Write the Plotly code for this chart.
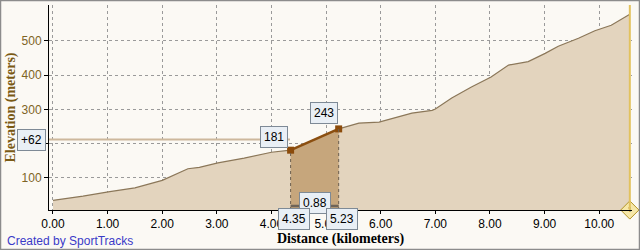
import plotly.graph_objects as go

# ---- data ----
distance_km = [0.00, 0.55, 1.04, 1.50, 2.00, 2.10, 2.47, 2.68, 3.02, 3.50, 4.00, 4.35,
               4.99, 5.23, 5.60, 5.97, 6.57, 6.94, 7.00, 7.30, 7.66, 8.02, 8.34, 8.70,
               9.01, 9.25, 9.62, 9.92, 10.22, 10.56]
elevation_m = [35, 47, 60, 71, 93, 100, 127, 131, 144, 158, 175, 181,
               226, 243, 260, 263, 289, 297, 301, 333, 365, 394, 429, 439,
               463, 484, 507, 529, 545, 577]

sel_start_km = 4.35
sel_end_km = 5.23
sel_start_elev = 181
sel_end_elev = 243
sel_distance_label = "0.88"
sel_gain_label = "+62"

x_ticks = [0, 1, 2, 3, 4, 5, 6, 7, 8, 9, 10]
x_tick_text = ["0.00", "1.00", "2.00", "3.00", "4.00", "5.00", "6.00", "7.00", "8.00", "9.00", "10.00"]
y_ticks = [100, 200, 300, 400, 500]
y_tick_text = ["100", "200", "300", "400", "500"]

# ---- layout geometry ----
W, H = 640, 250
ML, MR, MT, MB = 49, 8, 5, 40
PW, PH = W - ML - MR, H - MT - MB
XR = [-0.073, 10.60]
YR = [6.7, 604]


def px_x(p):
    return (p - ML) / PW


def px_y(p):
    return 1 - (p - MT) / PH


BG = "#FBF9F4"
FILL = "#E3D4BE"
LINE = "#8B7759"
SEL_FILL = "#C6A67C"
SEL_LINE = "#8B4F10"
BOX_BG = "#E9EFF5"
BOX_BORDER = "#7E8A96"

fig = go.Figure()

# main profile
fig.add_trace(go.Scatter(x=distance_km, y=elevation_m, mode="lines", fill="tozeroy",
                         fillcolor=FILL, line=dict(color=LINE, width=1.2),
                         hoverinfo="skip", showlegend=False))

# selected segment
sel_x = [d for d in distance_km if sel_start_km <= d <= sel_end_km]
sel_y = [e for d, e in zip(distance_km, elevation_m) if sel_start_km <= d <= sel_end_km]
fig.add_trace(go.Scatter(x=sel_x, y=sel_y, mode="lines", fill="tozeroy",
                         fillcolor=SEL_FILL, line=dict(color=SEL_LINE, width=2.5),
                         hoverinfo="skip", showlegend=False))
fig.add_trace(go.Scatter(x=[sel_start_km, sel_end_km], y=[sel_start_elev, sel_end_elev],
                         mode="markers", marker=dict(symbol="square", size=7, color="#8B4B0B"),
                         hoverinfo="skip", showlegend=False))

# end marker line
end_km = distance_km[-1]
fig.add_shape(type="line", x0=end_km, x1=end_km, y0=YR[0], y1=YR[1],
              line=dict(color="#E2C25E", width=2))
fig.add_trace(go.Scatter(x=[end_km], y=[YR[0]], mode="markers+text", text=["1"],
                         textfont=dict(size=8, color="#5A4A10"), textposition="middle center",
                         marker=dict(symbol="diamond", size=14, color="#F6E7A8",
                                     line=dict(color="#B39425", width=1)),
                         cliponaxis=False, hoverinfo="skip", showlegend=False))

mid_elev = (sel_start_elev + sel_end_elev) / 2
# horizontal gain line
fig.add_shape(type="line", xref="paper", x0=0, x1=px_x(290), y0=mid_elev, y1=mid_elev,
              line=dict(color="#CDB89C", width=2))
# dashed verticals
for xk, yk in [(sel_start_km, sel_start_elev), (sel_end_km, sel_end_elev)]:
    fig.add_shape(type="line", x0=xk, x1=xk, y0=YR[0], y1=yk,
                  line=dict(color="#6E6050", width=1, dash="dot"))
# distance bar
bar_elev = 18
fig.add_shape(type="line", x0=sel_start_km, x1=sel_end_km, y0=bar_elev, y1=bar_elev,
              line=dict(color="#6E6458", width=2.5))

fnt = dict(family="Liberation Sans, Arial, sans-serif", size=12, color="#000000")


def label(text, **kw):
    fig.add_annotation(text=text, bgcolor=BOX_BG, bordercolor=BOX_BORDER, borderwidth=1, borderpad=3,
                       showarrow=False, font=fnt, xanchor="center", yanchor="middle", **kw)


label(str(sel_start_elev), x=sel_start_km, y=sel_start_elev, xshift=-17, yshift=13)
label(str(sel_end_elev), x=sel_end_km, y=sel_end_elev, xshift=-15, yshift=16)
label(sel_distance_label, x=(sel_start_km + sel_end_km) / 2, y=bar_elev, yshift=3)
label(f"{sel_start_km:.2f}", xref="paper", yref="paper", x=px_x(293.5), y=px_y(219))
label(f"{sel_end_km:.2f}", xref="paper", yref="paper", x=px_x(341.5), y=px_y(219))
label(sel_gain_label, xref="paper", x=px_x(31), y=mid_elev)

# credit
fig.add_annotation(xref="paper", yref="paper", x=px_x(5), y=px_y(241), xanchor="left",
                   yanchor="middle", showarrow=False, text="Created by SportTracks",
                   font=dict(family="Liberation Sans, Arial, sans-serif", size=12, color="#3A3AC8"))

# image border
fig.add_shape(type="rect", xref="paper", yref="paper", x0=px_x(0.5), x1=px_x(W - 0.5),
              y0=px_y(H - 0.5), y1=px_y(0.5), line=dict(color="#8C8C8C", width=1.5))

fig.update_layout(
    width=W, height=H, margin=dict(l=ML, r=MR, t=MT, b=MB),
    paper_bgcolor=BG, plot_bgcolor=BG,
    xaxis=dict(range=XR, tickvals=x_ticks, ticktext=x_tick_text,
               showgrid=True, gridcolor="#9A9A9A", griddash="dot", gridwidth=1,
               showline=True, linecolor="#000000", linewidth=1,
               ticks="outside", ticklen=3, tickcolor="#000000",
               tickfont=dict(family="Liberation Sans, Arial, sans-serif", size=12, color="#000000"),
               title=dict(text="<b>Distance (kilometers)</b>", standoff=2,
                          font=dict(family="Liberation Serif, Times New Roman, serif", size=14, color="#000000")),
               zeroline=False),
    yaxis=dict(range=YR, tickvals=y_ticks, ticktext=y_tick_text,
               showgrid=True, gridcolor="#9A9A9A", griddash="dot", gridwidth=1,
               showline=True, linecolor="#000000", linewidth=1,
               ticks="outside", ticklen=4, tickcolor="#000000",
               tickfont=dict(family="Liberation Sans, Arial, sans-serif", size=12, color="#7E6424"),
               title=dict(text="<b>Elevation (meters)</b>", standoff=2,
                          font=dict(family="Liberation Serif, Times New Roman, serif", size=14, color="#7A5A14")),
               zeroline=False),
)

fig.write_html("out.html")
